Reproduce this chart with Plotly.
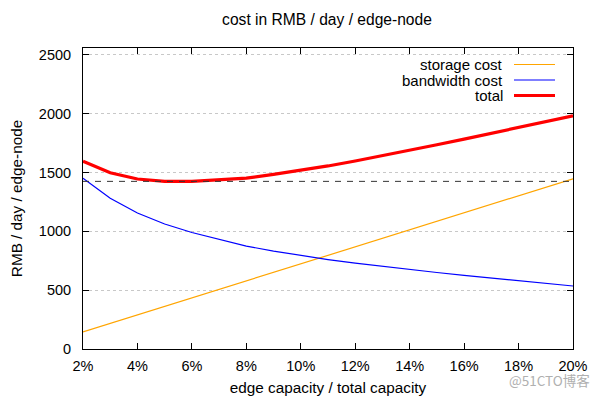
import plotly.graph_objects as go

capacity_pct = [2, 3, 4, 5, 6, 7, 8, 9, 10, 11, 12, 13, 14, 15, 16, 17, 18, 19, 20]
storage_cost = [145, 217, 289, 362, 434, 506, 578, 651, 723, 795, 868, 940, 1012, 1085, 1157, 1229, 1301, 1374, 1446]
bandwidth_cost = [1450, 1280, 1155, 1062, 990, 930, 874, 832, 794, 760, 729, 701, 675, 650, 626, 603, 580, 557, 535]
total_cost = [1595, 1497, 1444, 1424, 1424, 1436, 1452, 1483, 1517, 1555, 1597, 1641, 1687, 1735, 1783, 1832, 1881, 1931, 1981]

x_ticks = [2, 4, 6, 8, 10, 12, 14, 16, 18, 20]
x_tick_labels = ["2%", "4%", "6%", "8%", "10%", "12%", "14%", "16%", "18%", "20%"]
y_ticks = [0, 500, 1000, 1500, 2000, 2500]

series_names = ["storage cost", "bandwidth cost", "total"]
series_colors = ["#ffa500", "#0000ff", "#ff0000"]
series_widths = [1.2, 1.2, 3.2]

FONT = "Liberation Sans, Arial, sans-serif"

# The page body has an 8px margin: the figure is drawn at (8, 8) in the window.
OFF = 8
W, H = 600 - OFF, 400 - OFF
# plot area in window pixels
L, R, T, B = 83, 573, 48, 349
def px_x(p):
    return (p - L) / (R - L)
def px_y(p):
    return (B - p) / (B - T)

fig = go.Figure()
for name, vals, col, w in zip(series_names, [storage_cost, bandwidth_cost, total_cost], series_colors, series_widths):
    fig.add_trace(go.Scatter(x=capacity_pct, y=vals, mode="lines", name=name,
                             line=dict(color=col, width=w), showlegend=False))

min_total = min(total_cost)
fig.add_trace(go.Scatter(x=[capacity_pct[0], capacity_pct[-1]], y=[min_total, min_total], mode="lines",
                         line=dict(color="#333333", width=1, dash="6px,6px"), showlegend=False))

# gnuplot-style legend: text right-aligned, sample line on the right
leg_y = [64.5, 80, 95.5]
for name, col, w, yy in zip(series_names, series_colors, series_widths, leg_y):
    fig.add_annotation(x=px_x(505), y=px_y(yy), xref="paper", yref="paper", text=name, showarrow=False,
                       xanchor="right", yanchor="middle", font=dict(family=FONT, size=15, color="black"))
    fig.add_shape(type="line", xref="paper", yref="paper", x0=px_x(514), x1=px_x(555),
                  y0=px_y(yy), y1=px_y(yy), line=dict(color=col, width=w))

fig.add_annotation(x=px_x(592), y=px_y(380), xref="paper", yref="paper",
                   text="@51CTO博客", showarrow=False, xanchor="right", yanchor="middle",
                   font=dict(family="Noto Sans CJK SC", size=13.5, color="#b0b0b0"))

fig.update_layout(
    width=W, height=H,
    margin=dict(l=L - OFF, r=600 - R, t=T - OFF, b=400 - B, autoexpand=False),
    paper_bgcolor="white", plot_bgcolor="white",
    font=dict(family=FONT, size=14.5, color="black"),
    title=dict(text="cost in RMB / day / edge-node", x=(327 - OFF) / W, xanchor="center",
               y=1 - (20 - OFF) / H, yanchor="middle", font=dict(family=FONT, size=15.6)),
)
fig.update_xaxes(range=[2, 20], tickvals=x_ticks, ticktext=x_tick_labels, automargin=False,
                 showline=True, linecolor="black", linewidth=1, mirror="ticks",
                 ticks="inside", ticklen=6, tickcolor="black", showgrid=False, zeroline=False,
                 ticklabelstandoff=4,
                 title=dict(text="edge capacity / total capacity", standoff=8, font=dict(size=15.3)))
fig.update_yaxes(range=[0, 2557], tickvals=y_ticks, automargin=False,
                 showline=True, linecolor="black", linewidth=1, mirror="ticks",
                 ticks="inside", ticklen=6, tickcolor="black",
                 showgrid=True, gridcolor="#c8c8c8", griddash="dot", gridwidth=1, zeroline=False,
                 ticklabelstandoff=8,
                 title=dict(text="RMB / day / edge-node", standoff=12, font=dict(size=15.3)))

fig.write_html("out.html")
